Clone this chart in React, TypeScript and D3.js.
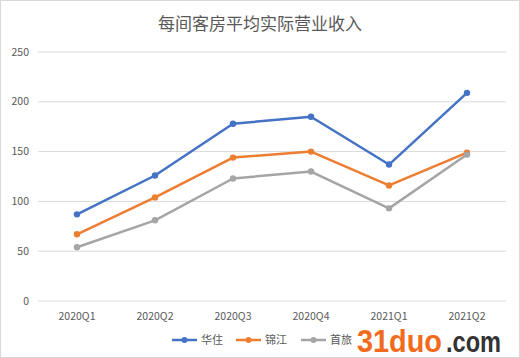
import React from "react";
import * as d3 from "d3";

const categories = ["2020Q1", "2020Q2", "2020Q3", "2020Q4", "2021Q1", "2021Q2"];
const huazhu = [87, 126, 178, 185, 137, 209];
const jinjiang = [67, 104, 144, 150, 116, 149];
const shoulv = [54, 81, 123, 130, 93, 147];
const yTicks = [0, 50, 100, 150, 200, 250];
const seriesNames = ["华住", "锦江", "首旅"];
const title = "每间客房平均实际营业收入";

const W = 520;
const H = 358;
const colors = ["#4472C4", "#ED7D31", "#A5A5A5"];
const font = "'Microsoft YaHei', 'Noto Sans CJK SC', 'DejaVu Sans', sans-serif";

export default function App() {
  const x = d3.scaleBand<string>().domain(categories).range([38, 506]);
  const y = d3.scaleLinear().domain([0, 250]).range([301, 52]);
  const line = d3
    .line<number>()
    .x((_, i) => (x(categories[i]) as number) + x.bandwidth() / 2)
    .y((d) => y(d));
  const series = [huazhu, jinjiang, shoulv];
  const legendX = [172, 236, 301];

  return (
    <svg
      width={W}
      height={H}
      style={{ position: "absolute", left: 0, top: 0, background: "#fff" }}
      fontFamily={font}
    >
      <rect x={0.5} y={0.5} width={W - 1} height={H - 1} fill="#fff" stroke="#d9d9d9" />
      <text x={260} y={30} textAnchor="middle" fontSize={17} fill="#595959">
        {title}
      </text>
      {yTicks.map((t) => (
        <g key={t}>
          <line x1={38} x2={506} y1={y(t)} y2={y(t)} stroke="#d9d9d9" strokeWidth={1} />
          <text x={29} y={y(t)} dy="0.35em" textAnchor="end" fontSize={10.5} fill="#595959">
            {t}
          </text>
        </g>
      ))}
      {categories.map((c) => (
        <text
          key={c}
          x={(x(c) as number) + x.bandwidth() / 2}
          y={320}
          textAnchor="middle"
          fontSize={10.5}
          fill="#595959"
        >
          {c}
        </text>
      ))}
      {series.map((s, si) => (
        <g key={si}>
          <path d={line(s) || ""} fill="none" stroke={colors[si]} strokeWidth={2.5} strokeLinejoin="round" />
          {s.map((v, i) => (
            <circle
              key={i}
              cx={(x(categories[i]) as number) + x.bandwidth() / 2}
              cy={y(v)}
              r={3.2}
              fill={colors[si]}
            />
          ))}
        </g>
      ))}
      {seriesNames.map((n, i) => (
        <g key={n}>
          <line x1={legendX[i]} x2={legendX[i] + 25} y1={340} y2={340} stroke={colors[i]} strokeWidth={2.5} />
          <circle cx={legendX[i] + 12.5} cy={340} r={3} fill={colors[i]} />
          <text x={legendX[i] + 29} y={340} dy="0.35em" fontSize={11} fill="#595959">
            {n}
          </text>
        </g>
      ))}
      <text
        x={357}
        y={352}
        fontSize={32}
        fontWeight="bold"
        fill="#F26B1D"
        textLength={85}
        lengthAdjust="spacingAndGlyphs"
        fontFamily="'Liberation Sans', Arial, sans-serif"
      >
        31duo
      </text>
      <text
        x={446}
        y={352}
        fontSize={30}
        fontWeight="bold"
        fill="#333"
        textLength={55}
        lengthAdjust="spacingAndGlyphs"
        fontFamily="'Liberation Sans', Arial, sans-serif"
      >
        .com
      </text>
    </svg>
  );
}
